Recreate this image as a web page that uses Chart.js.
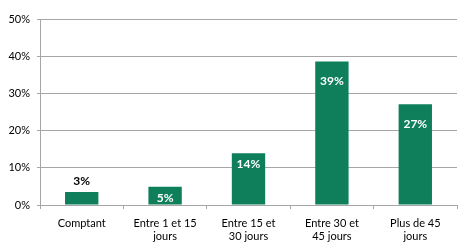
<!DOCTYPE html>
<html lang="fr">
<head>
    <meta charset="UTF-8">
    <title>Délais de paiement</title>
    <script src="https://cdn.jsdelivr.net/npm/chart.js"></script>
    <style>
        html, body { margin: 0; padding: 0; background: #fff; }
        #wrap { width: 470px; height: 252px; }
    </style>
</head>
<body>
<div id="wrap"><canvas id="delaisChart" width="470" height="252"></canvas></div>
<script>
    // catégories (libellés sur deux lignes comme dans l'original)
    const categories = [
        ["Comptant"],
        ["Entre 1 et 15", "jours"],
        ["Entre 15 et", "30 jours"],
        ["Entre 30 et", "45 jours"],
        ["Plus de 45", "jours"]
    ];
    const values = [3.5, 4.9, 13.9, 38.6, 27.1];
    const valueLabels = ["3%", "5%", "14%", "39%", "27%"];
    const yTicks = [0, 10, 20, 30, 40, 50];

    const green = "#0f7f5b";
    const gridColor = "#a6a6a6";
    const fontFamily = "Lato, 'Open Sans', sans-serif";

    // étiquettes de valeur : au-dessus si la barre est trop petite, sinon à l'intérieur en blanc
    const labelOffsets = [-11, 11, 11, 20, 20];
    const valueLabelPlugin = {
        id: "valueLabels",
        afterDatasetsDraw(chart) {
            const ctx = chart.ctx;
            const meta = chart.getDatasetMeta(0);
            ctx.save();
            ctx.font = "bold 12px " + fontFamily;
            ctx.textAlign = "center";
            ctx.textBaseline = "middle";
            meta.data.forEach((bar, i) => {
                const inside = labelOffsets[i] > 0;
                ctx.fillStyle = inside ? "#ffffff" : "#000000";
                ctx.fillText(valueLabels[i], bar.x, bar.y + labelOffsets[i]);
            });
            ctx.restore();
        }
    };

    new Chart(document.getElementById("delaisChart").getContext("2d"), {
        type: "bar",
        data: {
            labels: categories,
            datasets: [{
                data: values,
                backgroundColor: green,
                borderWidth: 0,
                barPercentage: 0.4,
                categoryPercentage: 1.0
            }]
        },
        options: {
            responsive: false,
            animation: false,
            layout: { padding: { top: 19, right: 13, left: 0, bottom: 0 } },
            plugins: {
                legend: { display: false },
                tooltip: { enabled: false }
            },
            scales: {
                x: {
                    grid: {
                        offset: true,
                        drawOnChartArea: false,
                        drawTicks: true,
                        tickLength: 4,
                        color: gridColor
                    },
                    border: { color: gridColor },
                    ticks: {
                        color: "#000",
                        font: { family: fontFamily, size: 11 },
                        padding: 8,
                        maxRotation: 0,
                        autoSkip: false
                    },
                    afterFit(scale) { scale.height = 47; }
                },
                y: {
                    min: 0,
                    max: 50,
                    afterBuildTicks(scale) {
                        scale.ticks = yTicks.map(v => ({ value: v }));
                    },
                    grid: {
                        color: gridColor,
                        drawTicks: true,
                        tickLength: 3
                    },
                    border: { color: gridColor },
                    ticks: {
                        color: "#000",
                        font: { family: fontFamily, size: 11 },
                        padding: 7,
                        callback: v => v + "%"
                    },
                    afterFit(scale) { scale.width = 40; }
                }
            }
        },
        plugins: [valueLabelPlugin]
    });
</script>
</body>
</html>
